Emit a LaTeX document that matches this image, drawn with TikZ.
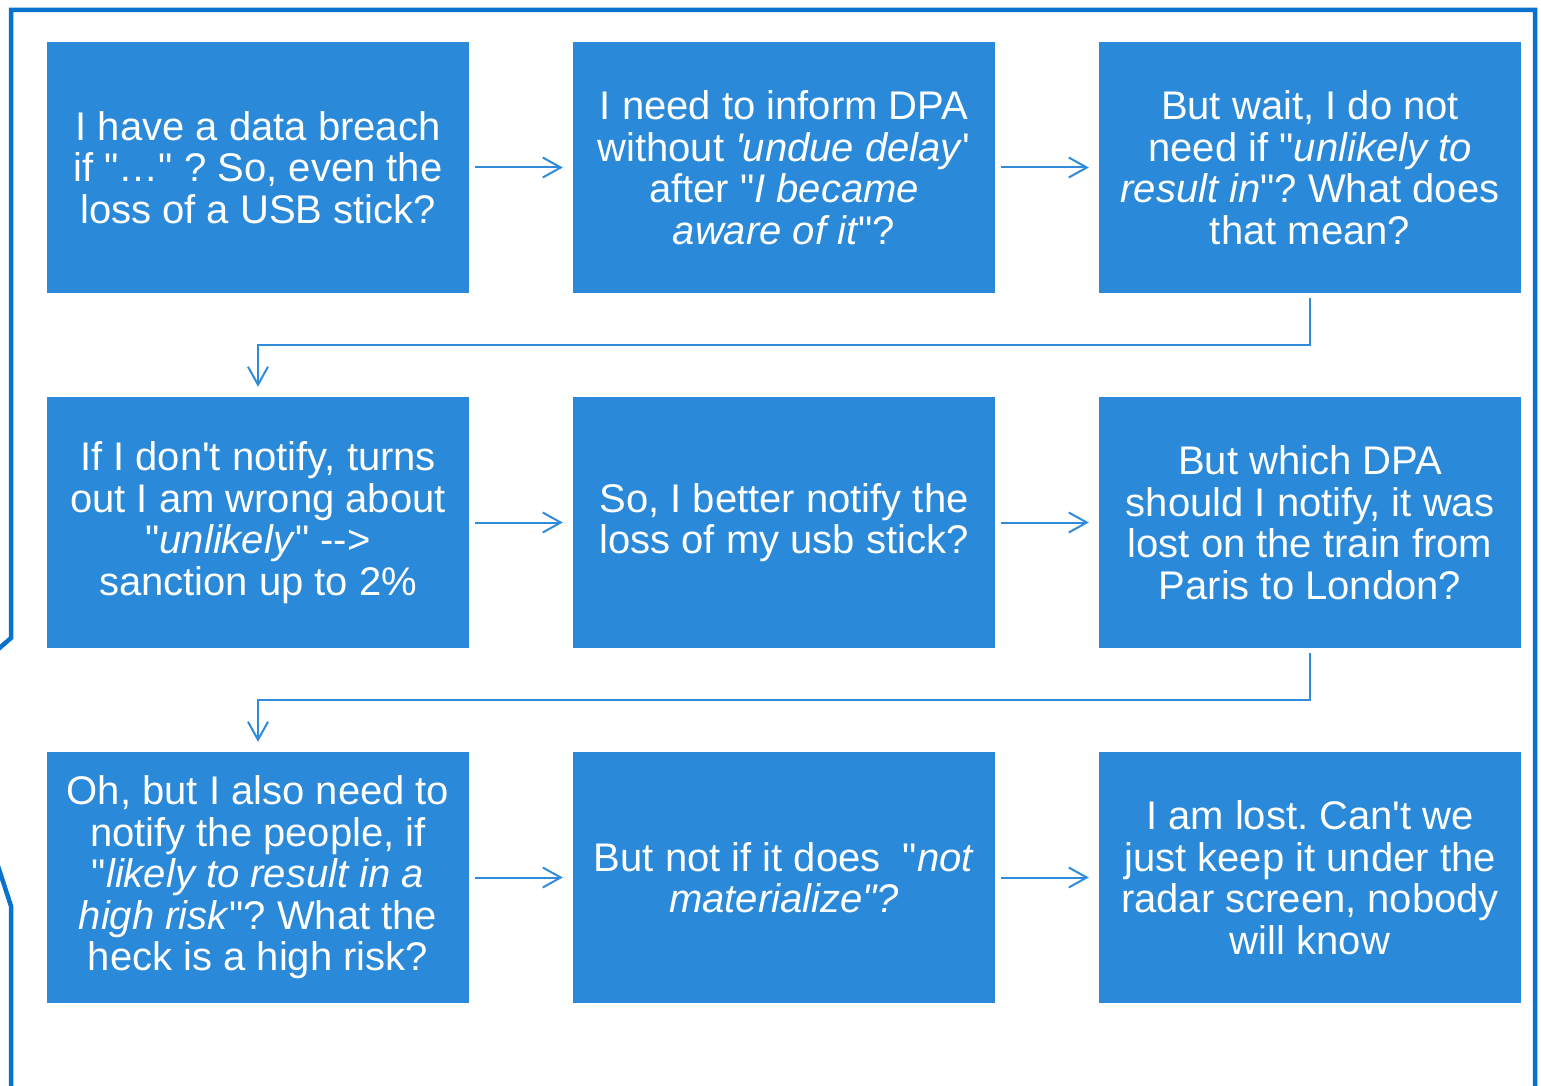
\documentclass[tikz,border=0pt]{standalone}
\usepackage{fontspec}
\setmainfont{Liberation Sans}[Ligatures=TeXOff]
\usetikzlibrary{arrows.meta}
\frenchspacing

\begin{document}
\begin{tikzpicture}[x=1pt,y=-1pt,>={Straight Barb[length=18pt,width=20pt]},
  step box/.style={fill=boxblue,minimum width=422pt,minimum height=251pt,
    inner sep=0pt,text=white,align=center,font=\fontsize{40}{41.5}\selectfont},
  flow/.style={->,draw=lineblue,line width=2pt}]
\definecolor{boxblue}{RGB}{42,137,216}
\definecolor{lineblue}{RGB}{48,140,218}
\definecolor{frameblue}{RGB}{8,114,204}

\useasboundingbox (0,0) rectangle (1541,1086);

% Outer frame, with the notch on the left side.
\draw[frameblue,line width=4.5pt,line join=miter]
  (-4,651) -- (11,638) -- (11,10) -- (1535,10) -- (1535,1092);
\draw[frameblue,line width=4.5pt,line join=miter]
  (-4,860) -- (11,906) -- (11,1092);

% First row.
\node[step box] (breach) at (258,167.5)
  {I have a data breach\\if "\dots" ? So, even the\\loss of a USB stick?};
\node[step box] (inform) at (784,167.5)
  {I need to inform DPA\\without \textit{'undue delay}'\\after "\textit{I became}\\\textit{aware of it}"?};
\node[step box] (unlikely) at (1310,167.5)
  {But wait, I do not\\need if "\textit{unlikely to}\\\textit{result in}"? What does\\that mean?};

% Second row.
\node[step box] (sanction) at (258,522.5)
  {If I don't notify, turns\\out I am wrong about\\"\textit{unlikely}" -->\\sanction up to 2\%};
\node[step box] (usb) at (784,522.5)
  {So, I better notify the\\loss of my usb stick?};
\node[step box] (which) at (1310,522.5)
  {But which DPA\\should I notify, it was\\lost on the train from\\Paris to London?};

% Third row.
\node[step box] (people) at (258,877.5)
  {Oh, but I also need to\\notify the people, if\\"\textit{likely to result in a}\\\textit{high risk}"? What the\\heck is a high risk?};
\node[step box] (materialize) at (784,877.5)
  {But not if it does\ \ "\textit{not}\\\textit{materialize"?}};
\node[step box] (radar) at (1310,877.5)
  {I am lost. Can't we\\just keep it under the\\radar screen, nobody\\will know};

% Connectors.
\draw[flow,shorten <=6pt,shorten >=10pt] (breach) -- (inform);
\draw[flow,shorten <=6pt,shorten >=10pt] (inform) -- (unlikely);
\draw[flow,shorten <=5pt,shorten >=10pt] (unlikely.south) -- ++(0,52) -| (sanction.north);
\draw[flow,shorten <=6pt,shorten >=10pt] (sanction) -- (usb);
\draw[flow,shorten <=6pt,shorten >=10pt] (usb) -- (which);
\draw[flow,shorten <=5pt,shorten >=10pt] (which.south) -- ++(0,52) -| (people.north);
\draw[flow,shorten <=6pt,shorten >=10pt] (people) -- (materialize);
\draw[flow,shorten <=6pt,shorten >=10pt] (materialize) -- (radar);
\end{tikzpicture}
\end{document}
